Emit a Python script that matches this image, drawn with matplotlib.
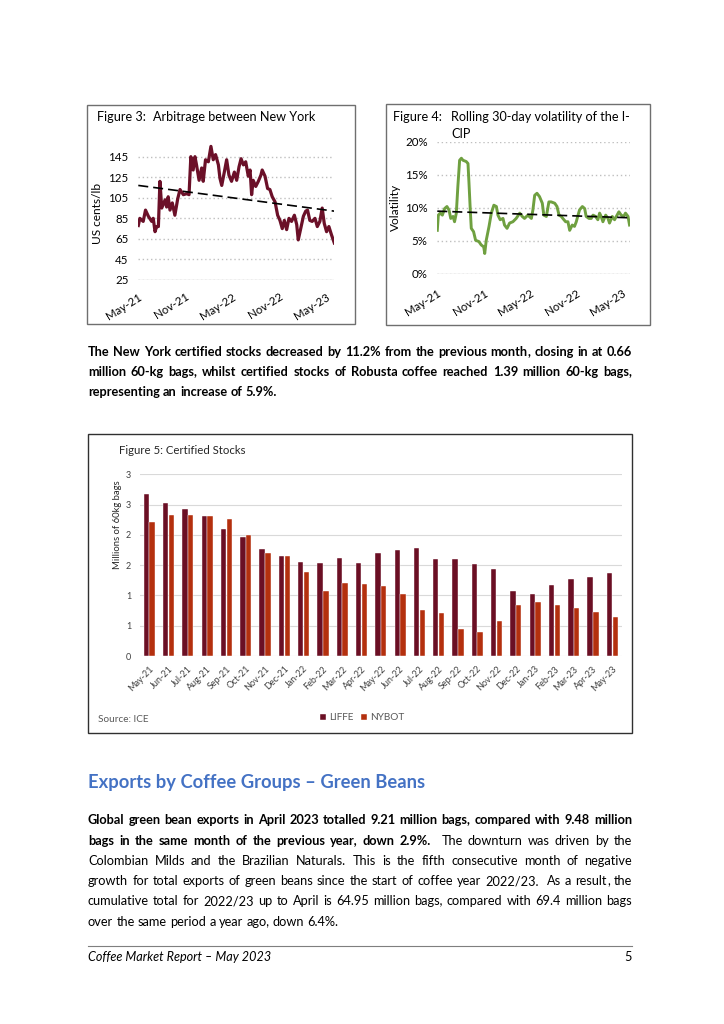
import matplotlib
matplotlib.use('Agg')
import matplotlib.pyplot as plt
from matplotlib.patches import Rectangle
import numpy as np
import pandas as pd

W, H = 724, 1024
plt.rcParams['font.family'] = 'Lato'

# ---- Figure 3: arbitrage New York (US cents/lb), days after 1 May 2021
arb_days = [0, 6, 19, 28, 39, 52, 58, 65, 71, 78, 84, 91, 104, 110, 116, 123, 132, 142, 153, 162,
            175, 188, 197, 204, 213, 220, 226, 236, 246, 252, 261, 272, 282, 291, 300, 311, 317, 324, 334, 343,
            352, 362, 373, 382, 391, 399, 408, 417, 427, 434, 440, 446, 456, 466, 476, 481, 492, 502, 511, 520,
            531, 541, 550, 559, 567, 576, 585, 595, 606, 615, 621, 628, 641, 650, 657, 666, 675, 686, 695, 705,
            714, 722, 731, 740, 750, 761]
arb_values = [78, 85, 82, 93, 87, 82, 85, 72, 77, 77, 121, 95, 103, 96, 106, 93, 100, 88, 104, 113,
              108, 109, 108, 145, 132, 145, 137, 122, 134, 121, 142, 140, 155, 142, 147, 137, 124, 117, 130, 142,
              127, 121, 130, 122, 135, 143, 137, 140, 126, 132, 108, 122, 116, 121, 127, 132, 126, 114, 113, 106,
              101, 88, 83, 75, 83, 74, 85, 82, 88, 79, 64, 72, 87, 92, 93, 83, 82, 85, 77, 82,
              95, 80, 72, 77, 69, 61]
arb_trend = [117, 92]
arb_yticks = [25, 45, 65, 85, 105, 125, 145]

# ---- Figure 4: rolling 30-day volatility of the I-CIP (%)
vol_days = [0, 4, 12, 20, 29, 38, 46, 53, 62, 68, 75, 81, 88, 95, 101, 114, 121, 125, 130, 134,
            143, 151, 164, 173, 183, 187, 193, 204, 213, 223, 233, 239, 248, 259, 265, 275, 285, 298, 311, 325,
            335, 344, 357, 371, 377, 384, 393, 403, 414, 420, 430, 440, 449, 463, 472, 480, 489, 495, 506, 515,
            522, 532, 541, 548, 555, 561, 572, 581, 587, 598, 607, 614, 624, 633, 640, 646, 653, 664, 673, 679,
            690, 699, 706, 716, 725, 735, 742, 752, 758]
vol_values = [6.6, 8.9, 9.2, 8.9, 9.9, 10.2, 9.7, 8.4, 8.7, 7.9, 9.2, 13.2, 17.2, 17.5, 17.2, 17.0, 16.7, 13.7, 9.7, 6.9,
              6.4, 5.1, 4.9, 4.4, 4.1, 3.1, 5.1, 7.2, 9.2, 10.4, 10.2, 8.9, 8.2, 8.4, 7.4, 6.9, 7.7, 7.9, 8.4, 9.2,
              8.7, 8.4, 8.9, 8.4, 9.7, 11.9, 12.2, 11.7, 10.7, 8.9, 8.7, 10.9, 10.9, 10.7, 10.2, 8.9, 8.7, 8.4, 7.9, 7.9,
              6.6, 7.4, 7.2, 7.9, 8.9, 9.7, 10.2, 9.9, 8.7, 8.4, 8.4, 8.9, 8.7, 8.2, 9.2, 8.7, 7.9, 8.9, 8.4, 7.7,
              8.7, 8.2, 8.7, 9.4, 8.9, 8.7, 9.2, 8.7, 7.4]
vol_trend = [9.5, 8.5]
vol_yticks = [0, 5, 10, 15, 20]
vol_ylabels = ['0%', '5%', '10%', '15%', '20%']

date_ticks = ['2021-05-01', '2021-11-01', '2022-05-01', '2022-11-01', '2023-05-01']
date_labels = ['May-21', 'Nov-21', 'May-22', 'Nov-22', 'May-23']

# ---- Figure 5: certified stocks (millions of 60kg bags)
months = ['May-21', 'Jun-21', 'Jul-21', 'Aug-21', 'Sep-21', 'Oct-21', 'Nov-21', 'Dec-21', 'Jan-22',
          'Feb-22', 'Mar-22', 'Apr-22', 'May-22', 'Jun-22', 'Jul-22', 'Aug-22', 'Sep-22', 'Oct-22',
          'Nov-22', 'Dec-22', 'Jan-23', 'Feb-23', 'Mar-23', 'Apr-23', 'May-23']
liffe = [2.67, 2.53, 2.43, 2.31, 2.09, 1.97, 1.77, 1.65, 1.55, 1.54, 1.62, 1.54, 1.70, 1.75, 1.79,
         1.60, 1.60, 1.52, 1.44, 1.07, 1.03, 1.18, 1.27, 1.30, 1.37]
nybot = [2.21, 2.33, 2.32, 2.31, 2.26, 2.00, 1.70, 1.65, 1.39, 1.07, 1.21, 1.19, 1.16, 1.03, 0.76,
         0.71, 0.44, 0.40, 0.58, 0.85, 0.89, 0.85, 0.79, 0.72, 0.64]
stock_yticks = [0, 0.5, 1, 1.5, 2, 2.5, 3]
stock_ylabels = ['0', '1', '1', '2', '2', '3', '3']

para1 = ["The New York certified stocks decreased by 11.2% from the previous month, closing in at 0.66",
         "million 60-kg bags, whilst certified stocks of Robusta coffee reached 1.39 million 60-kg bags,",
         "representing an increase of 5.9%."]
heading = "Exports by Coffee Groups \u2013 Green Beans"
para2 = [[("Global green bean exports in April 2023 totalled 9.21 million bags, compared with 9.48 million", 'bold')],
         [("bags in the same month of the previous year, down 2.9%. ", 'bold'),
          ("The downturn was driven by the", 'normal')],
         [("Colombian Milds and the Brazilian Naturals. This is the fifth consecutive month of negative", 'normal')],
         [("growth for total exports of green beans since the start of coffee year 2022/23.  As a result, the", 'normal')],
         [("cumulative total for 2022/23 up to April is 64.95 million bags, compared with 69.4 million bags", 'normal')],
         [("over the same period a year ago, down 6.4%.", 'normal')]]
footer = "Coffee Market Report \u2013 May 2023"

fig = plt.figure(figsize=(W / 100, H / 100), dpi=100)
fig.patch.set_facecolor('white')
renderer = fig.canvas.get_renderer()


def rect(l, t, r, b):
    return [l / W, 1 - b / H, (r - l) / W, (b - t) / H]


def ftext(x, y, s, **kw):
    return fig.text(x / W, 1 - y / H, s, **kw)


def box(l, t, r, b, color):
    fig.add_artist(Rectangle((l / W, 1 - b / H), (r - l) / W, (b - t) / H, transform=fig.transFigure,
                             fill=False, ec=color, lw=1))


def width_of(s, **kw):
    t = fig.text(0, 0, s, **kw)
    w = t.get_window_extent(renderer).width
    t.remove()
    return w


def style_axes(ax):
    ax.set_facecolor('none')
    for sp in ax.spines.values():
        sp.set_visible(False)
    ax.tick_params(length=0, colors='#000000')


start = pd.Timestamp('2021-05-01')
end = pd.Timestamp('2023-06-01')
tick_pos = pd.to_datetime(date_ticks)

# ---------- Figure 3
box(87, 105, 355, 324, '#6f6f6f')
ax3 = fig.add_axes(rect(138.3, 136.1, 334.3, 280))
style_axes(ax3)
d3 = start + pd.to_timedelta(arb_days, unit='D')
ax3.set_yticks(arb_yticks)
ax3.yaxis.grid(True, ls=(0, (1, 2)), color='#BFBFBF', lw=1)
ax3.axhline(25, color='#D9D9D9', lw=1)
ax3.plot(d3, arb_values, color='#6B1028', lw=2.3, solid_joinstyle='round')
ax3.plot([d3[0], d3[-1]], arb_trend, color='black', lw=1.2, ls=(0, (6, 3)))
ax3.set_xlim(start, end)
ax3.set_ylim(25, 165)
ax3.set_xticks(tick_pos)
ax3.set_xticklabels(date_labels, rotation=32, ha='right', va='top', rotation_mode='anchor')
ax3.tick_params(axis='x', labelsize=8.3, pad=8)
ax3.tick_params(axis='y', labelsize=8.3, pad=7)
ftext(97, 121, "Figure 3:", fontsize=9.1, va='baseline')
ftext(153, 121, "Arbitrage between New York", fontsize=9.1, va='baseline')
ftext(98, 213, "US cents/lb", fontsize=8.6, rotation=90, ha='center', va='center')

# ---------- Figure 4
box(386, 104, 650, 325, '#6f6f6f')
ax4 = fig.add_axes(rect(437.3, 141.7, 630.3, 274))
style_axes(ax4)
d4 = start + pd.to_timedelta(vol_days, unit='D')
ax4.set_yticks(vol_yticks)
ax4.set_yticklabels(vol_ylabels)
ax4.yaxis.grid(True, ls=(0, (1, 2)), color='#BFBFBF', lw=1)
ax4.axhline(0, color='#D9D9D9', lw=1)
ax4.plot(d4, vol_values, color='#6FA040', lw=2.1, solid_joinstyle='round')
ax4.plot([d4[0], d4[-1]], vol_trend, color='black', lw=1.2, ls=(0, (6, 3)))
ax4.set_xlim(start, end)
ax4.set_ylim(0, 20)
ax4.set_xticks(tick_pos)
ax4.set_xticklabels(date_labels, rotation=32, ha='right', va='top', rotation_mode='anchor')
ax4.tick_params(axis='x', labelsize=8.3, pad=10)
ax4.tick_params(axis='y', labelsize=8.3, pad=7)
ftext(393, 121, "Figure 4:", fontsize=9.1, va='baseline')
ftext(451, 121, "Rolling 30-day volatility of the I-", fontsize=9.1, va='baseline')
ftext(451, 138, "CIP", fontsize=9.1, va='baseline')
ftext(395, 207, "Volatility", fontsize=8.6, rotation=90, ha='center', va='center')

# ---------- Figure 5
box(88, 434, 632, 733, '#303030')
ax5 = fig.add_axes(rect(139.6, 474.3, 622, 656))
style_axes(ax5)
x = np.arange(len(months))
ax5.set_yticks(stock_yticks)
ax5.set_yticklabels(stock_ylabels)
ax5.yaxis.grid(True, color='#D9D9D9', lw=0.8)
ax5.set_axisbelow(True)
b1 = ax5.bar(x - 0.15, liffe, 0.28, color='#6B0F24', ec='white', lw=0.3, label='LIFFE')
b2 = ax5.bar(x + 0.15, nybot, 0.28, color='#B4300E', ec='white', lw=0.3, label='NYBOT')
ax5.set_xlim(-0.5, len(months) - 0.5)
ax5.set_ylim(0, 3)
ax5.set_xticks(x)
ax5.set_xticklabels(months, rotation=45, ha='right', va='top', rotation_mode='anchor')
ax5.tick_params(axis='x', labelsize=6.5, pad=6, colors='#404040')
ax5.tick_params(axis='y', labelsize=6.5, pad=6, colors='#404040')
ftext(119, 450, "Figure 5: Certified Stocks", fontsize=8.2, va='center', color='#262626')
ftext(117, 525, "Millions of 60kg bags", fontsize=6.8, rotation=90, ha='center', va='center', color='#262626')
ftext(98, 719, "Source: ICE", fontsize=7.2, va='center', color='#595959')
leg = fig.legend(handles=[b1, b2], labels=['LIFFE', 'NYBOT'], loc='center', ncol=2,
                 bbox_to_anchor=(362 / W, 1 - 718 / H), frameon=False, fontsize=7.2,
                 handlelength=0.6, handleheight=0.6, handletextpad=0.3, columnspacing=0.8)
for t in leg.get_texts():
    t.set_color('#595959')

# ---------- body text
X0, X1 = 88, 632
# font size chosen so that the longest justified lines fit with natural spacing
size = min(10 * (X1 - X0) * 0.985 / width_of(para1[0], fontsize=10, fontweight='bold'),
           10 * (X1 - X0) * 0.985 / width_of(para2[0][0][0], fontsize=10, fontweight='bold'),
           10 * (X1 - X0) * 0.985 / width_of(para2[3][0][0], fontsize=10))
DESC = set('gjpqy/()Q')


def put_word(xx, y, w, wt):
    # a word whose only descender is a trailing comma gets drawn a bit low,
    # so the comma goes in its own text
    if w.endswith(',') and len(w) > 1 and not (set(w[:-1]) & DESC):
        ftext(xx, y, w[:-1], fontsize=size, fontweight=wt, va='baseline', color='black')
        ftext(xx + width_of(w[:-1], fontsize=size, fontweight=wt), y, ',', fontsize=size,
              fontweight=wt, va='baseline', color='black')
    else:
        ftext(xx, y, w, fontsize=size, fontweight=wt, va='baseline', color='black')


def put_line(parts, y, justify):
    y = round(y) + 0.2
    words = []
    for s, wt in parts:
        for w in s.split(' '):
            words.append((w, wt))
    if words and words[-1][0] == '' and not justify:
        words = words[:-1]
    widths = [width_of(w, fontsize=size, fontweight=wt) if w else 0 for w, wt in words]
    if justify:
        gap = (X1 - X0 - sum(widths)) / (len(words) - 1)
    else:
        gap = width_of('a a', fontsize=size) - width_of('aa', fontsize=size)
    xx = X0
    for (w, wt), wd in zip(words, widths):
        if w:
            put_word(xx, y, w, wt)
        xx += wd + gap


for i, line in enumerate(para1):
    put_line([(line, 'bold')], 356 + 20 * i, i < len(para1) - 1)

head_size = 10 * 336 / width_of(heading, fontsize=10, fontweight='bold')
ftext(X0, 788, heading, fontsize=head_size, fontweight='bold', color='#4472C4', va='baseline')

for i, parts in enumerate(para2):
    put_line(parts, 824.5 + 20.2 * i, i < len(para2) - 1)

fig.add_artist(plt.Line2D([X0 / W, X1 / W], [1 - 946 / H, 1 - 946 / H], transform=fig.transFigure,
                          color='#7f7f7f', lw=0.8))
foot_size = 10 * 182 / width_of(footer, fontsize=10, style='italic')
ftext(X0, 961, footer, fontsize=foot_size, style='italic', va='baseline')
ftext(X1, 961, "5", fontsize=foot_size, ha='right', va='baseline')

fig.savefig('out.png', dpi=100)
